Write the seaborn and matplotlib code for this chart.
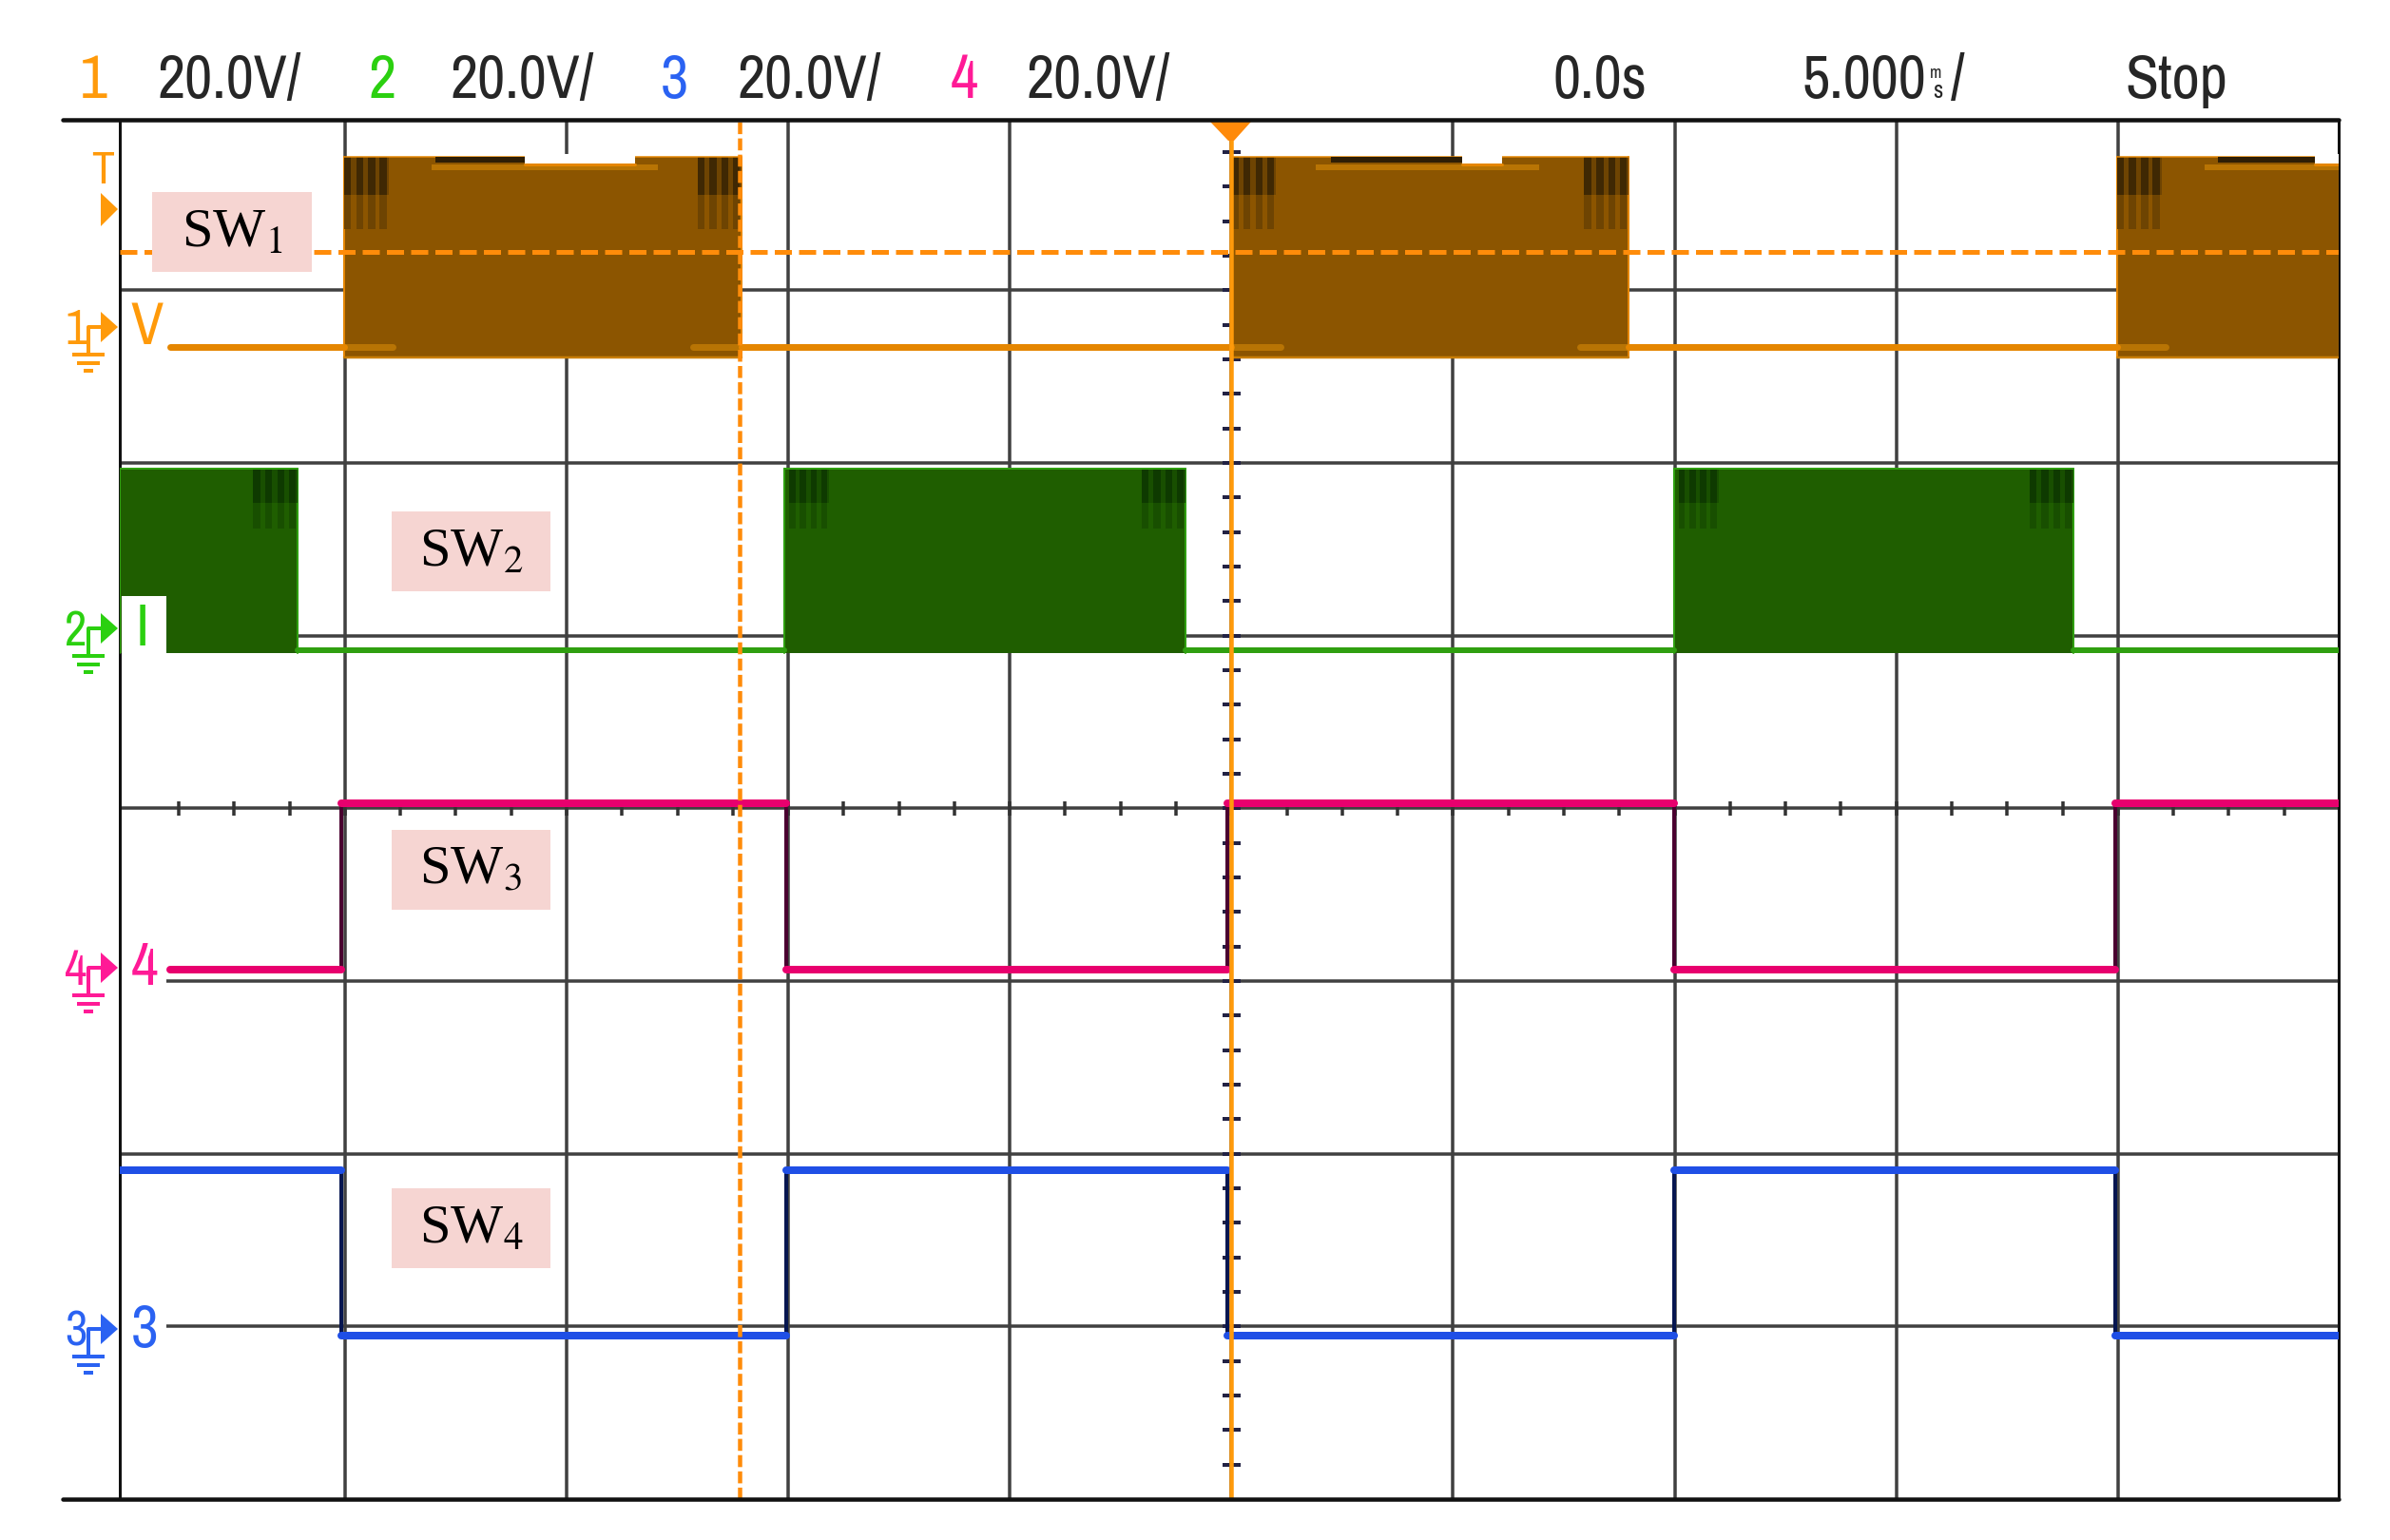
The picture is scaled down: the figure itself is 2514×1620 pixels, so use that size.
import numpy as np
import pandas as pd
import matplotlib
matplotlib.use("Agg")
import matplotlib.pyplot as plt
from matplotlib import font_manager as fm
from matplotlib.patches import Rectangle, Polygon
import seaborn as sns

# time in ms (5 ms/div), level in V on screen (20 V/div)
sw3_edges = [-23.95, -20.08, -10.04, -0.09, 9.99, 19.94, 24.98]
sw3_levels = [-18.7, 0.56, -18.7, 0.56, -18.7, 0.56]
sw4_edges = [-25.08, -20.08, -10.04, -0.09, 9.99, 19.94, 24.98]
sw4_levels = [-41.95, -61.1, -41.95, -61.1, -41.95, -61.1]

sw1_base = 53.4
sw1_top = 75.5
sw1_notch_top = 74.6
sw1_bottom = 52.2
sw1_dark_low = 71.0
sw1_mid_low = 67.1
sw1_bursts = [(-20.02, -11.05), (0.0, 8.96), (19.98, 24.98)]
sw1_notches = [(-15.95, -13.45), (5.2, 6.1), (24.45, 24.98)]
sw1_bands = [(-18.05, -12.95), (1.9, 6.95), (21.95, 24.98)]
sw1_crumbs = [(-17.95, -15.95), (2.25, 5.2), (22.25, 24.45)]

sw2_base = 18.3
sw2_top = 39.3
sw2_bottom = 17.95
sw2_dark_low = 35.4
sw2_mid_low = 32.4
sw2_bursts = [(-25.08, -21.07), (-10.08, -1.03), (9.99, 19.0)]

trigger_level = 64.4
cursor_time = -11.09
trigger_time = 0.0
x_divs = [-20, -15, -10, -5, 0, 5, 10, 15, 20]
y_divs = [-60, -40, -20, 0, 20, 40, 60]

header = ["20.0V/", "20.0V/", "20.0V/", "20.0V/"]
channel_names = ["1", "2", "3", "4"]
switch_names = ["SW$_1$", "SW$_2$", "SW$_3$", "SW$_4$"]

orange = "#FF9A0A"
orange_dark = "#E58600"
brown = "#8C5500"
green = "#2BD010"
green_line = "#2F9F10"
green_dark = "#1F5E00"
blue = "#1F4FE6"
blue_label = "#2A62F2"
pink = "#E8006E"
pink_label = "#FF1A96"
box_col = "#F6D5D2"
grid_col = "#404040"
px = 72 / 100  # points per pixel at dpi 100

sns.set_style("whitegrid", {"axes.edgecolor": "black", "grid.color": grid_col})
plt.rcParams["font.family"] = ["Liberation Sans", "DejaVu Sans"]
plt.rcParams["mathtext.fontset"] = "stix"

# the scope header uses a narrow face, if there is one
installed = {f.name for f in fm.fontManager.ttflist}
if "Archivo Narrow" in installed:
    head_font, head_size = "Archivo Narrow", 46
else:
    head_font, head_size = "Liberation Sans", 39

fig = plt.figure(figsize=(25.14, 16.2), dpi=100)
ax = fig.add_axes([126 / 2514, 1 - 1577 / 1620, (2460 - 126) / 2514, (1577 - 126) / 1620])
ax.set_xlim(-25.08, 24.98)
ax.set_ylim(-80, 79.75)
ax.set_xticks(x_divs)
ax.set_yticks(y_divs)
ax.tick_params(length=0, labelbottom=False, labelleft=False)
ax.grid(True, lw=3.5 * px, color=grid_col)
ax.set_axisbelow(True)
ax.set_xlabel("")
ax.set_ylabel("")
for name, spine in ax.spines.items():
    spine.set_linewidth(3 * px)
    spine.set_color("#111111")
    spine.set_zorder(1.5)

# crosshair ticks on the screen centre
minor_x = np.arange(-23.75, 23.76, 1.25)
minor_y = np.arange(-76, 76.01, 4)
ax.vlines(minor_x, -0.8, 0.8, color="#333333", lw=3.5 * px, zorder=1)
ax.hlines(minor_y, -0.2, 0.2, color="#222244", lw=4 * px, zorder=1)


def burst(t0, t1, low, high, col, edge):
    ax.fill_between([t0, t1], [low, low], [high, high], color=col, lw=0, zorder=2)
    ax.plot([t0, t0], [low, high], color=edge, lw=2 * px, zorder=2.1)
    if t1 < 24.9:
        ax.plot([t1, t1], [low, high], color=edge, lw=2 * px, zorder=2.1)


def end_zone(t0, t1, high, dark_low, mid_low, dark, mid):
    # a few darker stripes where the switching gets denser
    ax.fill_between([t0, t1], [dark_low] * 2, [high] * 2, color=mid, lw=0, zorder=2.2)
    for f in [0.0, 0.27, 0.54, 0.8]:
        a = t0 + f * (t1 - t0)
        b = a + 0.16 * (t1 - t0)
        ax.fill_between([a, b], [mid_low] * 2, [high] * 2, color=mid, lw=0, zorder=2.25)
        ax.fill_between([a, b], [dark_low] * 2, [high] * 2, color=dark, lw=0, zorder=2.3)


# SW1 envelope
for i, (t0, t1) in enumerate(sw1_bursts):
    burst(t0, t1, sw1_bottom, sw1_top, brown, orange_dark)
    end_zone(t0, t0 + 1.0, sw1_top, sw1_dark_low, sw1_mid_low, "#3F2803", "#6E4402")
    if t1 < 24.9:
        end_zone(t1 - 1.0, t1, sw1_top, sw1_dark_low, sw1_mid_low, "#3F2803", "#6E4402")
    a, b = sw1_crumbs[i]
    ax.fill_between([a, b], [sw1_notch_top + 0.2] * 2, [sw1_top] * 2, color="#2E1E05", lw=0, zorder=2.4)
    a, b = sw1_bands[i]
    ax.fill_between([a, b], [sw1_notch_top - 0.7] * 2, [sw1_notch_top] * 2, color="#B87404", lw=0, zorder=2.4)
    a, b = sw1_notches[i]
    ax.fill_between([a, b], [sw1_notch_top] * 2, [sw1_top + 0.3] * 2, color="white", lw=0, zorder=2.5)
    ax.plot([a, b], [sw1_notch_top] * 2, color=orange_dark, lw=3 * px, zorder=2.6)
    ax.plot([t0, t1], [sw1_bottom] * 2, color="#C97E05", lw=2.5 * px, zorder=2.4)
    ax.plot([t0, t1], [sw1_top] * 2, color=orange_dark, lw=1.5 * px, zorder=2.3)
    # baseline runs on into the burst a little
    ax.plot([t0, t0 + 1.1], [sw1_base] * 2, color="#B87404", lw=7 * px, zorder=2.5)
    if t1 < 24.9:
        ax.plot([t1 - 1.1, t1], [sw1_base] * 2, color="#B87404", lw=7 * px, zorder=2.5)

# SW2 envelope
for t0, t1 in sw2_bursts:
    burst(t0, t1, sw2_bottom, sw2_top, green_dark, green_line)
    if t0 > -25:
        end_zone(t0 + 0.1, t0 + 1.0, sw2_top, sw2_dark_low, sw2_mid_low, "#0E3A00", "#184F00")
    end_zone(t1 - 1.0, t1, sw2_top, sw2_dark_low, sw2_mid_low, "#0E3A00", "#184F00")
    ax.plot([t0, t1], [sw2_top] * 2, color=green_line, lw=2 * px, zorder=2.5)

# baselines of the two envelope channels, only outside of the bursts
sw1_gaps = pd.DataFrame({
    "t": [-23.95, -20.02, -11.05, 0.0, 8.96, 19.98],
    "v": [sw1_base] * 6,
    "seg": [0, 0, 1, 1, 2, 2],
})
sns.lineplot(data=sw1_gaps, x="t", y="v", units="seg", estimator=None, sort=False,
             color=orange_dark, lw=7 * px, ax=ax, zorder=3, legend=False)
sw2_gaps = pd.DataFrame({
    "t": [-21.07, -10.08, -1.03, 9.99, 19.0, 24.98],
    "v": [sw2_base] * 6,
    "seg": [0, 0, 1, 1, 2, 2],
})
sns.lineplot(data=sw2_gaps, x="t", y="v", units="seg", estimator=None, sort=False,
             color=green_line, lw=6 * px, ax=ax, zorder=3, legend=False)


def square_wave(edges, levels, col, dark):
    # thin dark edges first, thick flat parts on top
    sns.lineplot(x=edges, y=levels + [levels[-1]], estimator=None, sort=False,
                 drawstyle="steps-post", color=dark, lw=4 * px, ax=ax, zorder=3, legend=False)
    for i, lev in enumerate(levels):
        sns.lineplot(x=[edges[i], edges[i + 1]], y=[lev, lev], estimator=None, sort=False,
                     color=col, lw=8 * px, ax=ax, zorder=3.2, legend=False)


square_wave(sw3_edges, sw3_levels, pink, "#4A0030")
square_wave(sw4_edges, sw4_levels, blue, "#061650")

# trigger level and cursors
ax.axhline(trigger_level, color="#FF8C0A", lw=5 * px, ls=(0, (3.6, 1.5)), zorder=4)
ax.axvline(cursor_time, color="#FF8C0A", lw=4.5 * px, ls=(0, (2.8, 1.0)), ymax=0.999, zorder=4)
ax.axvline(trigger_time, color=orange, lw=4.5 * px, zorder=4)

# everything around the screen is placed in picture pixels
ov = fig.add_axes([0, 0, 1, 1], facecolor="none")
ov.set_xlim(0, 2514)
ov.set_ylim(1620, 0)
ov.axis("off")

ov.plot([66, 2460], [126, 126], color="#111111", lw=4.5 * px)
ov.plot([66, 2460], [1577, 1577], color="#111111", lw=4.5 * px)

# white label patches over the traces and grid
ov.add_patch(Rectangle((128, 627), 47, 60, color="white", lw=0))
ov.add_patch(Rectangle((128, 988), 47, 50, color="white", lw=0))
ov.add_patch(Rectangle((128, 1370), 47, 50, color="white", lw=0))

text_col = "#262626"
for name, col, x_num, val, x_val in zip(channel_names, [orange, green, blue_label, pink_label],
                                        [84, 388, 695, 1000], header, [166, 473, 775, 1080]):
    ov.text(x_num, 103, name, color=col, fontsize=head_size, family=head_font, va="baseline")
    ov.text(x_val, 103, val, color=text_col, fontsize=head_size, family=head_font, va="baseline")
ov.text(1634, 103, "0.0s", color=text_col, fontsize=head_size, family=head_font, va="baseline")
ov.text(1896, 103, "5.000", color=text_col, fontsize=head_size, family=head_font, va="baseline")
ov.text(2030, 82, "m", color=text_col, fontsize=13, family=head_font, va="baseline")
ov.text(2033, 103, "s", color=text_col, fontsize=18, family=head_font, va="baseline")
ov.text(2052, 103, "/", color=text_col, fontsize=head_size, family=head_font, va="baseline")
ov.text(2235, 103, "Stop", color=text_col, fontsize=head_size, family=head_font, va="baseline")

# trigger markers
ov.add_patch(Polygon([(1273, 128), (1316, 128), (1298, 148), (1292, 148)], color="#FF8A0A", lw=0))
ov.add_patch(Polygon([(106, 203), (124, 220), (106, 238)], color=orange, lw=0))
ov.text(96, 193, "T", color=orange, fontsize=head_size * 0.75, family=head_font, va="baseline")


def ground(y_arrow, col, name, x_lab=None, lab=None, y_lab=None):
    ov.text(68, y_arrow + 18, name, color=col, fontsize=head_size * 0.8, family=head_font, va="baseline")
    ov.add_patch(Polygon([(106, y_arrow - 16), (124, y_arrow), (106, y_arrow + 16)], color=col, lw=0))
    ov.plot([108, 93, 93], [y_arrow, y_arrow, y_arrow + 27], color=col, lw=4 * px, solid_capstyle="butt")
    for dy, half in zip([29, 38, 46], [17, 12, 5]):
        ov.plot([93 - half, 93 + half], [y_arrow + dy, y_arrow + dy], color=col, lw=4 * px, solid_capstyle="butt")
    ov.text(x_lab, y_lab, lab, color=col, fontsize=head_size * 0.98, family=head_font, va="baseline")


ground(344, orange, "1", 137, "V", 362)
ground(661, green, "2", 143, "I", 679)
ground(1018, pink_label, "4", 138, "4", 1036)
ground(1398, blue_label, "3", 138, "3", 1417)

# switch labels
boxes = [(160, 202, 168, 84), (412, 538, 167, 84), (412, 873, 167, 84), (412, 1250, 167, 84)]
for name, (bx, by, bw, bh) in zip(switch_names, boxes):
    ov.add_patch(Rectangle((bx, by), bw, bh, color=box_col, lw=0))
    ov.text(bx + bw / 2, by + bh / 2 + 15, name, color="black", fontsize=42,
            family="Liberation Serif", ha="center", va="baseline")

fig.savefig("out.png", dpi=100)
